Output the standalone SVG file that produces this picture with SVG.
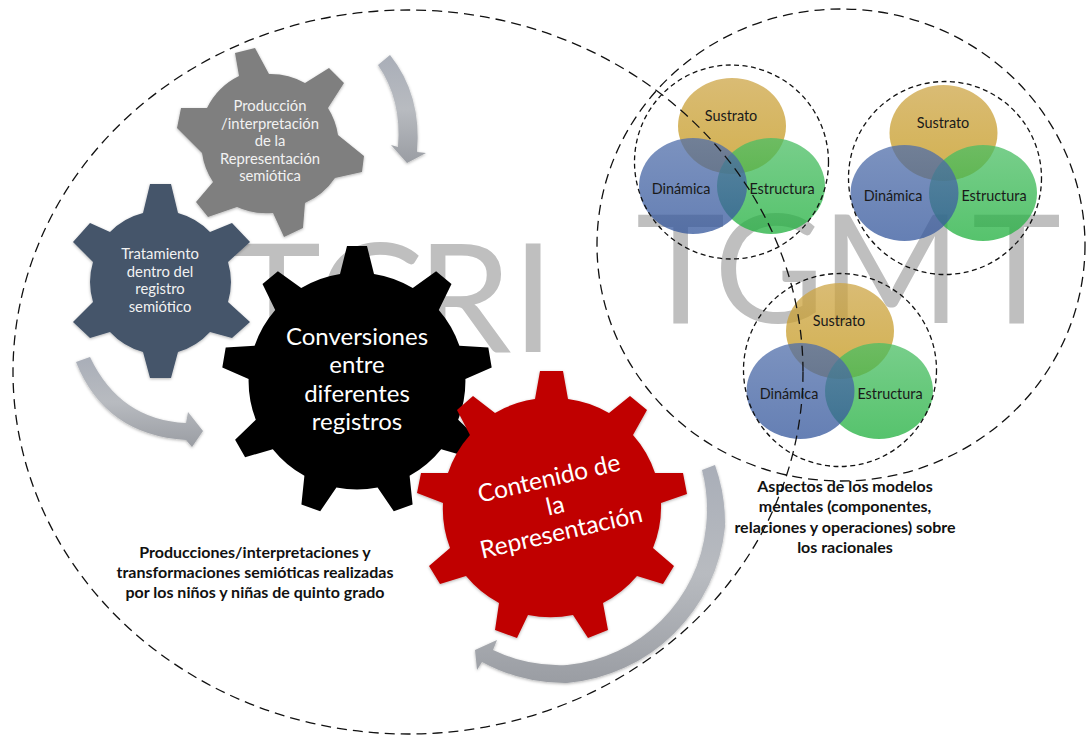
<svg xmlns="http://www.w3.org/2000/svg" width="1091" height="736" viewBox="0 0 1091 736">
<style>
text{font-family:"Lato","Carlito","Liberation Sans",sans-serif;text-anchor:middle}
.big{font-size:151px;font-weight:400;fill:#bfbfbf;text-anchor:start}
.w16{font-size:14.8px;fill:#f2f2f2}
.w27{font-size:24px;fill:#fff}
.w25{font-size:24.5px;fill:#fff}
.v{font-size:14.4px;fill:#1a1a1a}
.cap{font-size:16px;font-weight:700;fill:#111}
.dash{fill:none;stroke:#111;stroke-width:1.3;stroke-dasharray:10 6}
.dot{fill:none;stroke:#111;stroke-width:1.3;stroke-dasharray:5 3.5}
.arrow{fill:url(#ga)}
.s{fill:url(#gs);}
.d{fill:url(#gd);}
.e{fill:url(#ge);}
</style>
<defs>
<linearGradient id="ga" x1="0" y1="0" x2="0" y2="1"><stop offset="0" stop-color="#a9aeb8"/><stop offset=".5" stop-color="#b8bbc0"/><stop offset="1" stop-color="#9a9da3"/></linearGradient>
<linearGradient id="gs" x1="0" y1="0" x2="0" y2="1"><stop offset="0" stop-color="rgb(205,165,70)" stop-opacity=".75"/><stop offset="1" stop-color="rgb(195,150,20)" stop-opacity=".75"/></linearGradient>
<linearGradient id="gd" x1="0" y1="0" x2="0" y2="1"><stop offset="0" stop-color="rgb(80,110,170)" stop-opacity=".75"/><stop offset="1" stop-color="rgb(50,85,155)" stop-opacity=".75"/></linearGradient>
<linearGradient id="ge" x1="0" y1="0" x2="0" y2="1"><stop offset="0" stop-color="rgb(75,190,100)" stop-opacity=".75"/><stop offset="1" stop-color="rgb(30,175,60)" stop-opacity=".75"/></linearGradient>
<filter id="sh" x="-10%" y="-10%" width="120%" height="120%"><feDropShadow dx="0" dy="1" stdDeviation="1.5" flood-color="#000" flood-opacity=".3"/></filter>
</defs>
<rect width="1091" height="736" fill="#fff"/>
<g id="watermarks">
<text class="big" y="352" x="232 318 417 512">TGRI</text>
<text class="big" y="323" x="636 714 821 972">TGMT</text>
</g>
<g id="gear-produccion">
<path fill="#7f7f7f" filter="url(#sh)" d="M239,76 L235,53 L255,48 L269,74 A70,70 0 0 1 305,83 L329,68 L344,83 L328,108 A70,70 0 0 1 338,135 L364,156 L362,172 L335,178 A70,70 0 0 1 305,203 L303,228 L284,237 L273,213 A70,70 0 0 1 237,207 L208,217 L196,202 L213,182 A70,70 0 0 1 202,153 L177,128 L181,108 L207,108 A70,70 0 0 1 239,76 Z"/>
<text class="w16" x="270" y="111">Producción</text>
<text class="w16" x="270" y="129">/interpretación</text>
<text class="w16" x="270" y="146">de la</text>
<text class="w16" x="270" y="164">Representación</text>
<text class="w16" x="270" y="181">semiótica</text>
</g>
<g id="gear-tratamiento">
<path fill="#44546a" filter="url(#sh)" d="M150,184 L171,184 L178,213 A70,70 0 0 1 210,232 L232,223 L250,242 L228,262 A70,70 0 0 1 228,302 L250,322 L232,338 L210,332 A70,70 0 0 1 178,352 L171,378 L150,378 L143,352 A70,70 0 0 1 110,332 L90,338 L73,322 L93,302 A70,70 0 0 1 93,262 L73,242 L90,223 L110,232 A70,70 0 0 1 143,213 Z"/>
<text class="w16" x="160" y="259">Tratamiento</text>
<text class="w16" x="160" y="277">dentro del</text>
<text class="w16" x="160" y="294">registro</text>
<text class="w16" x="160" y="312">semiótico</text>
</g>
<g id="gear-conversiones">
<path fill="#000" d="M340,274 L347,246 L367,246 L374,274 A107,107 0 0 1 412.8,288.1 L436.1,271.2 L451.5,284 L438.8,309.9 A107,107 0 0 1 459.4,345.7 L488.3,347.6 L491.7,367.4 L465.4,379.1 A107,107 0 0 1 458.2,419.8 L478.9,439.8 L468.9,457.2 L441.2,449.2 A107,107 0 0 1 409.6,475.8 L412.6,504.5 L393.8,511.3 L377.6,487.4 A107,107 0 0 1 336.4,487.4 L320.2,511.3 L301.4,504.5 L304.4,475.8 A107,107 0 0 1 272.8,449.2 L245.1,457.2 L235.1,439.8 L255.8,419.8 A107,107 0 0 1 248.6,379.1 L222.3,367.4 L225.7,347.6 L254.6,345.7 A107,107 0 0 1 275.2,309.9 L262.5,284 L277.9,271.2 L301.2,288.1 A107,107 0 0 1 340,274 Z"/>
<text class="w27" x="357" y="345">Conversiones</text>
<text class="w27" x="357" y="373">entre</text>
<text class="w27" x="357" y="402">diferentes</text>
<text class="w27" x="357" y="430">registros</text>
</g>
<g id="gear-contenido">
<path fill="#c00000" filter="url(#sh)" d="M535,399 L540,371 L563,371 L568,399 A109,109 0 0 1 609,413 L630,396 L647,410 L633,435 A109,109 0 0 1 655,473 L683,473 L687,494 L661,503 A109,109 0 0 1 653,548 L674,566 L663,584 L637,576 A109,109 0 0 1 603,603 L608,630 L588,638 L573,615 A109,109 0 0 1 528,615 L517,638 L495,630 L499,603 A109,109 0 0 1 466,576 L440,584 L429,566 L450,548 A109,109 0 0 1 443,503 L417,493 L421,473 L448,473 A109,109 0 0 1 470,435 L457,410 L473,396 L495,413 A109,109 0 0 1 535,399 Z"/>
<g transform="rotate(-13 555 505)">
<text class="w25" x="555" y="486">Contenido de</text>
<text class="w25" x="555" y="514">la</text>
<text class="w25" x="555" y="541">Representación</text>
</g>
</g>
<g id="venn-1">
<ellipse class="s" cx="732" cy="126" rx="54" ry="48"/>
<ellipse class="e" cx="771" cy="186" rx="54" ry="48"/>
<ellipse class="d" cx="693" cy="186" rx="54" ry="48"/>
<circle class="dot" cx="731.5" cy="162" r="97"/>
<text class="v" x="731" y="121">Sustrato</text>
<text class="v" x="681" y="194">Dinámica</text>
<text class="v" x="782" y="194">Estructura</text>
</g>
<g id="venn-2">
<ellipse class="s" cx="943.5" cy="133" rx="54" ry="48"/>
<ellipse class="e" cx="983" cy="193" rx="54" ry="48"/>
<ellipse class="d" cx="904.5" cy="193" rx="54" ry="48"/>
<circle class="dot" cx="945" cy="178" r="96.500"/>
<text class="v" x="943" y="128">Sustrato</text>
<text class="v" x="893" y="201">Dinámica</text>
<text class="v" x="994" y="201">Estructura</text>
</g>
<g id="venn-3">
<ellipse class="s" cx="840" cy="331" rx="54" ry="48"/>
<ellipse class="e" cx="879" cy="391" rx="54" ry="48"/>
<ellipse class="d" cx="800.5" cy="391" rx="54" ry="48"/>
<circle class="dot" cx="840" cy="370" r="96.500"/>
<text class="v" x="839" y="326">Sustrato</text>
<text class="v" x="789" y="399">Dinámica</text>
<text class="v" x="890" y="399">Estructura</text>
</g>
<g id="captions">
<text class="cap" x="255" y="558">Producciones/interpretaciones y</text>
<text class="cap" x="255" y="578">transformaciones semióticas realizadas</text>
<text class="cap" x="255" y="598">por los niños y niñas de quinto grado</text>
<text class="cap" x="845" y="492">Aspectos de los modelos</text>
<text class="cap" x="845" y="512">mentales (componentes,</text>
<text class="cap" x="845" y="533">relaciones y operaciones) sobre</text>
<text class="cap" x="845" y="553">los racionales</text>
</g>
<g id="connectors">
<ellipse class="dash" cx="408" cy="372" rx="395" ry="362"/>
<ellipse class="dash" cx="841" cy="245" rx="244" ry="236"/>
<path class="arrow" filter="url(#sh)" d="M378,65 L390,55 Q422,95 417,152 L426,153 L407,163 L391,145 L398,147 Q402,100 378,65 Z"/>
<path class="arrow" filter="url(#sh)" d="M76,362 L90,357 Q120,420 186,423 L188,412 L203,431 L192,447 L186,440 Q105,435 76,362 Z"/>
<path class="arrow" filter="url(#sh)" d="M702,470 L715,465 A174,174 0 0 1 725,527 A174,174 0 0 1 567,683 A174,174 0 0 1 482,662 L477,670 L475,650 L497,640 L493,650 A155,155 0 0 0 567,665 A155,155 0 0 0 706,527 A155,155 0 0 0 702,470 Z"/>
</g>
</svg>
